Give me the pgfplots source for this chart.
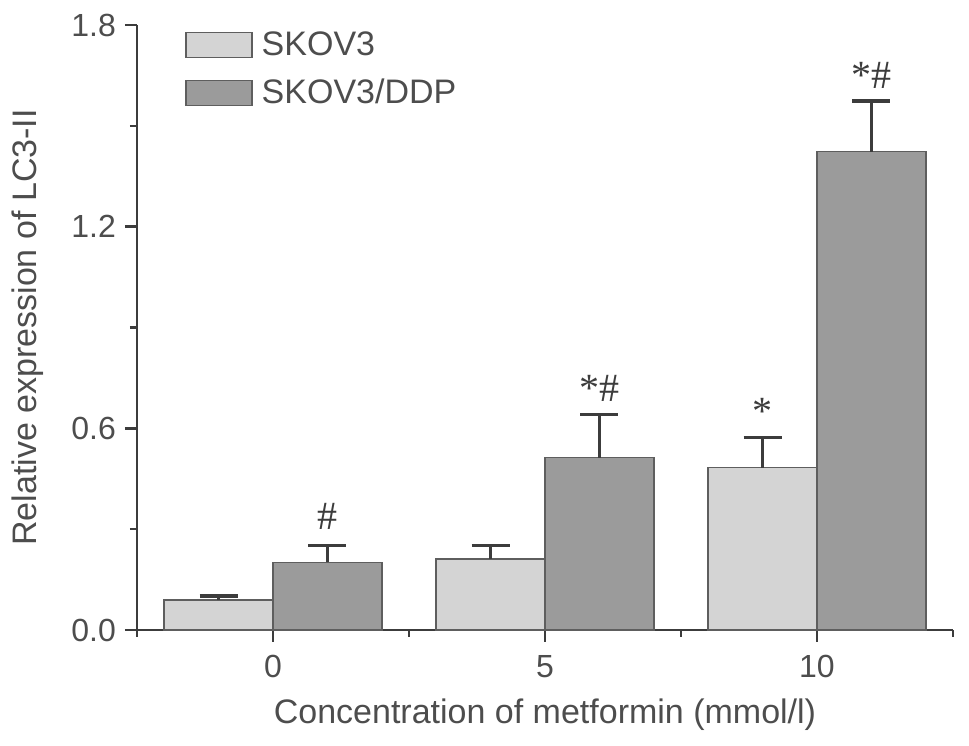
\documentclass[border=0pt]{standalone}
\usepackage{pgfplots}
\pgfplotsset{compat=1.18}
\usepackage{fontspec}
\setmainfont{Liberation Sans}
\newfontfamily\annfont{Liberation Serif}
\definecolor{textgray}{HTML}{4D4D4D}
\definecolor{axisgray}{HTML}{3C3C3C}
\definecolor{lightbar}{HTML}{D4D4D4}
\definecolor{darkbar}{HTML}{9B9B9B}
\definecolor{barborder}{HTML}{5E5E5E}
\pgfplotsset{mylegend/.style={legend image code/.code={\draw[##1,line width=0.75pt] (0pt,-6.25pt) rectangle (33pt,6.25pt); \path[draw=none,fill=none] (0pt,0pt) -- (34.8pt,0pt);}}}
\pgfplotstableread{
x y e
0 0.089 0.012
1 0.211 0.040
2 0.483 0.089
}\skov
\pgfplotstableread{
x y e
0 0.201 0.051
1 0.513 0.129
2 1.423 0.151
}\ddp
\begin{document}
\begin{tikzpicture}
\begin{axis}[
  scale only axis,
  width=408pt, height=302.5pt,
  xmin=-0.5, xmax=2.5, ymin=0, ymax=1.8,
  axis lines*=left,
  axis line style={axisgray, line width=1.3pt},
  tick align=outside,
  major tick length=6pt, minor tick length=3.5pt,
  tick style={axisgray, line width=1.3pt},
  xtick={0,1,2}, xticklabels={0,5,10},
  minor xtick={-0.5,0.5,1.5,2.5},
  ytick={0,0.6,1.2,1.8}, minor ytick={0.3,0.9,1.5},
  yticklabel style={/pgf/number format/fixed, /pgf/number format/fixed zerofill, /pgf/number format/precision=1, xshift=-1pt},
  /pgf/number format/assume math mode=true,
  ticklabel style={font=\fontsize{16}{19}\selectfont, text=textgray},
  xticklabel style={yshift=-3pt},
  xlabel={Concentration of metformin (mmol/l)},
  ylabel={Relative expression of LC3-II},
  label style={font=\fontsize{17}{20}\selectfont, text=textgray},
  xlabel style={at={([yshift=-42.5pt]rel axis cs:0.5,0)}, anchor=center},
  ylabel style={at={([xshift=-54.5pt]rel axis cs:0,0.5)}, anchor=center},
  ybar, bar width=0.4,
  legend style={at={(rel axis cs:0,1)}, anchor=north west, xshift=24pt, yshift=0pt,
    draw=none, fill=none, inner sep=0pt, row sep=4.5pt,
    font=\fontsize{17}{20}\selectfont, text=textgray,
    nodes={inner sep=3pt}},
  legend cell align=left,
  clip=false,
]
\addplot[mylegend, fill=lightbar, draw=barborder, line width=0.75pt, bar shift=-0.2,
  error bars/.cd, y dir=plus, y explicit,
  error bar style={axisgray, line width=1.4pt},
  error mark options={rotate=90, mark size=9.5pt, axisgray, line width=1.6pt}]
  table[x=x, y=y, y error=e]{\skov};
\addlegendentry{SKOV3}
\addplot[mylegend, fill=darkbar, draw=barborder, line width=0.75pt, bar shift=0.2,
  error bars/.cd, y dir=plus, y explicit,
  error bar style={axisgray, line width=1.4pt},
  error mark options={rotate=90, mark size=9.5pt, axisgray, line width=1.6pt}]
  table[x=x, y=y, y error=e]{\ddp};
\addlegendentry{SKOV3/DDP}
\node[anchor=base, font=\annfont\fontsize{20}{24}\selectfont, text=axisgray] at (axis cs:0.2,0.2975) {\#};
\node[anchor=base, font=\annfont\fontsize{20}{24}\selectfont, text=axisgray] at (axis cs:1.2,0.681) {*\#};
\node[anchor=base, font=\annfont\fontsize{20}{24}\selectfont, text=axisgray] at (axis cs:1.8,0.611) {*};
\node[anchor=base, font=\annfont\fontsize{20}{24}\selectfont, text=axisgray] at (axis cs:2.2,1.612) {*\#};
\coordinate (BL) at ([xshift=-68.5pt,yshift=-58pt]rel axis cs:0,0);
\coordinate (TR) at ([xshift=8pt,yshift=12.5pt]rel axis cs:1,1);
\end{axis}
\pgfresetboundingbox
\useasboundingbox (BL) rectangle (TR);
\end{tikzpicture}
\end{document}
